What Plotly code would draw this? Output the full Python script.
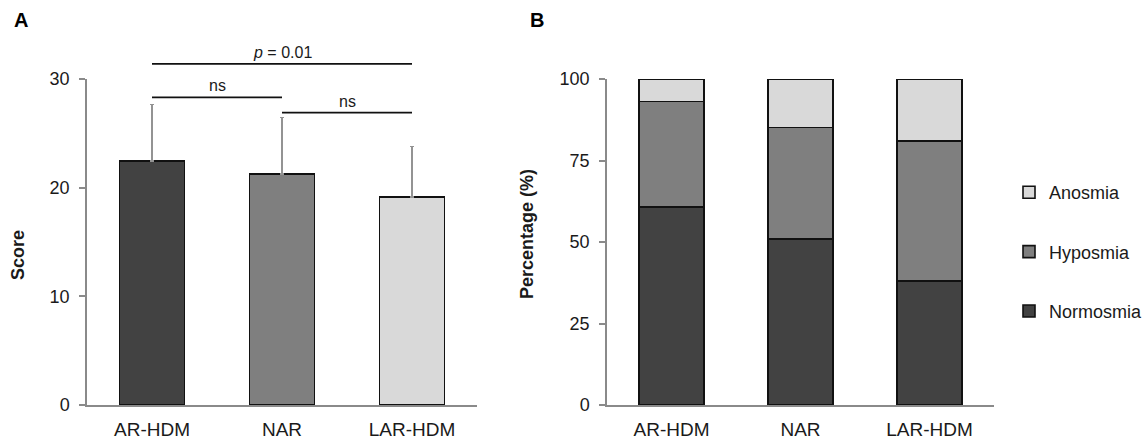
import plotly.graph_objects as go

# ---------------- data ----------------
groups = ["AR-HDM", "NAR", "LAR-HDM"]
score_mean = [22.45, 21.25, 19.15]
score_sd = [5.2, 5.2, 4.65]
score_colors = ["#424242", "#7f7f7f", "#d9d9d9"]

# significance brackets: (from index, to index, line height in score units, label)
brackets = [
    (0, 2, 31.4, "<i>p</i> = 0.01"),
    (0, 1, 28.3, "ns"),
    (1, 2, 26.9, "ns"),
]

normosmia = [60.8, 51.0, 38.1]
hyposmia = [32.3, 34.1, 42.8]
anosmia = [6.9, 14.9, 19.1]
smell_names = ["Normosmia", "Hyposmia", "Anosmia"]
smell_colors = ["#424242", "#7f7f7f", "#d9d9d9"]
legend_rank = [3, 2, 1]

score_ticks = [0, 10, 20, 30]
pct_ticks = [0, 25, 50, 75, 100]

# ---------------- layout geometry ----------------
W, H = 1146, 441
top_px, bot_px = 79, 405
ydom = [1 - bot_px / H, 1 - top_px / H]
xdomA = [87 / W, 477 / W]
xdomB = [607 / W, 994 / W]
SCORE_MAX = 30


def score_to_paper(v):
    return ydom[0] + (v / SCORE_MAX) * (ydom[1] - ydom[0])


font_family = "Liberation Sans, Arial, sans-serif"
axis_col = "#8a8a8a"
text_col = "#1a1a1a"

fig = go.Figure()

fig.add_trace(go.Bar(
    x=groups, y=score_mean, width=0.5,
    marker=dict(color=score_colors, line=dict(color="#111111", width=1.6)),
    error_y=dict(type="data", array=score_sd, arrayminus=[0] * len(score_sd),
                 symmetric=False, color="#939393", thickness=1.5, width=2),
    xaxis="x", yaxis="y", showlegend=False,
))

datasets = [normosmia, hyposmia, anosmia]
for name, vals, col, rk in zip(smell_names, datasets, smell_colors, legend_rank):
    fig.add_trace(go.Bar(
        x=groups, y=vals, name=name, width=0.5,
        marker=dict(color=col, line=dict(color="#111111", width=1.6)),
        xaxis="x2", yaxis="y2", legendgroup=name, legendrank=rk,
    ))

# significance brackets
for a, b, h, lab in brackets:
    yp = score_to_paper(h)
    fig.add_shape(type="line", xref="x", yref="paper",
                  x0=groups[a], x1=groups[b], y0=yp, y1=yp,
                  line=dict(color="#111111", width=1.8))
    mid = (a + b) / 2
    fig.add_annotation(xref="x", yref="paper", x=mid, y=yp, yanchor="bottom",
                       yshift=1, text=lab, showarrow=False,
                       font=dict(size=16, color=text_col, family=font_family))

# panel letters and axis titles
fig.add_annotation(xref="paper", yref="paper", x=12 / W, y=1 - 7 / H,
                   xanchor="left", yanchor="top", text="<b>A</b>", showarrow=False,
                   font=dict(size=20, color="#000000", family=font_family))
fig.add_annotation(xref="paper", yref="paper", x=528 / W, y=1 - 7 / H,
                   xanchor="left", yanchor="top", text="<b>B</b>", showarrow=False,
                   font=dict(size=20, color="#000000", family=font_family))
fig.add_annotation(xref="paper", yref="paper", x=18 / W, y=1 - 255 / H,
                   xanchor="center", yanchor="middle",
                   text="<b>Score</b>", textangle=-90, showarrow=False,
                   font=dict(size=18, color=text_col, family=font_family))
fig.add_annotation(xref="paper", yref="paper", x=527 / W, y=1 - 234 / H,
                   xanchor="center", yanchor="middle",
                   text="<b>Percentage (%)</b>", textangle=-90, showarrow=False,
                   font=dict(size=18, color=text_col, family=font_family))

xaxis_common = dict(showline=True, linecolor=axis_col, linewidth=1.5, ticks="",
                    showgrid=False, zeroline=False, range=[-0.5, 2.5],
                    tickfont=dict(size=19, color=text_col, family=font_family),
                    ticklabelstandoff=6, fixedrange=True)
yaxis_common = dict(showline=True, linecolor=axis_col, linewidth=1.5, ticks="outside",
                    ticklen=6, tickcolor=axis_col, tickwidth=1.5, showgrid=False,
                    zeroline=False, domain=ydom,
                    tickfont=dict(size=18, color=text_col, family=font_family),
                    ticklabelstandoff=6, fixedrange=True)

fig.update_layout(
    width=W, height=H,
    margin=dict(l=0, r=0, t=0, b=0, autoexpand=False),
    paper_bgcolor="white", plot_bgcolor="white",
    barmode="stack",
    xaxis=dict(domain=xdomA, anchor="y", **xaxis_common),
    yaxis=dict(anchor="x", range=[0, SCORE_MAX], tickvals=score_ticks, **yaxis_common),
    xaxis2=dict(domain=xdomB, anchor="y2", **xaxis_common),
    yaxis2=dict(anchor="x2", range=[0, 100], tickvals=pct_ticks, **yaxis_common),
    legend=dict(x=1009 / W, y=1 - 174 / H, xanchor="left", yanchor="top",
                traceorder="grouped", tracegroupgap=33,
                font=dict(size=18, color=text_col, family=font_family),
                itemwidth=30, bgcolor="rgba(0,0,0,0)"),
    showlegend=True,
)

fig.write_html("out.html",
               config={"displayModeBar": False},
               post_script="document.body.style.margin='0';document.body.style.overflow='hidden';")
